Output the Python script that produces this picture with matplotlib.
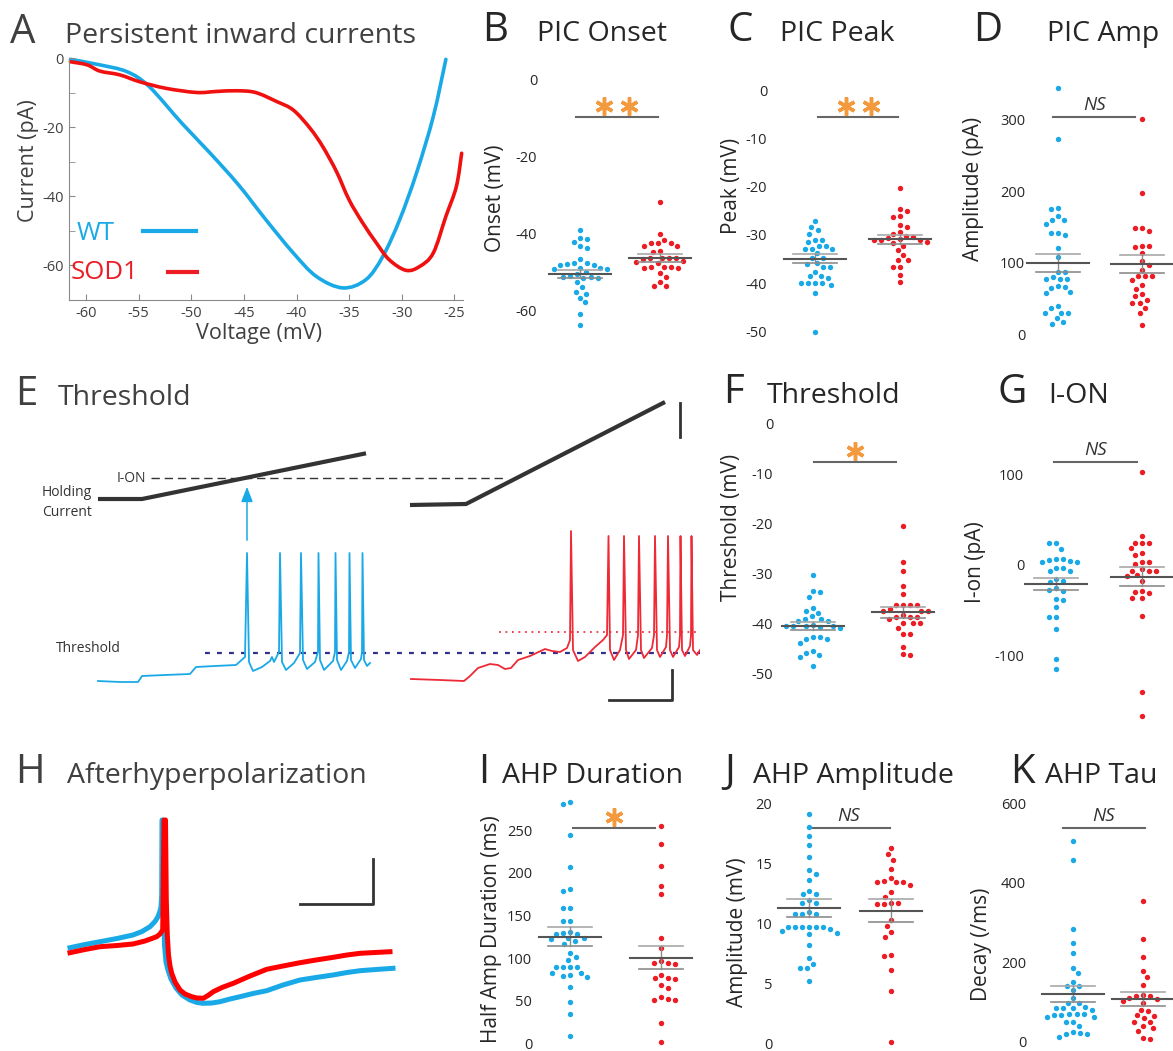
import numpy as np
import matplotlib
matplotlib.use('Agg')
import matplotlib.pyplot as plt
from matplotlib.lines import Line2D
from matplotlib.path import Path
from matplotlib.patches import PathPatch

plt.rcParams['font.family'] = ['Open Sans', 'DejaVu Sans']
plt.rcParams['axes.unicode_minus'] = False

W, H = 1173, 1051
BLUE = '#1aa9e7'
RED = '#ec1c24'
ORANGE = '#f49a3e'
DARK = '#262626'
GREY = '#404040'

# ---------------- A: PIC I-V curves ----------------
pic_wt_v = [-61.5, -58.7, -56.1, -54.0, -50.9, -48.2, -45.5, -42.9, -40.3, -38.1, -35.6,
            -33.4, -31.8, -30.2, -28.6, -27.0, -25.8]
pic_wt_i = [-0.3, -1.9, -3.9, -8.2, -18.8, -27.5, -36.7, -46.8, -56.4, -63.2, -66.5,
            -64.1, -57.4, -46.8, -33.3, -16.9, -0.3]
pic_sod_v = [-61.5, -59.9, -58.7, -56.8, -54.9, -52.4, -49.5, -47.6, -45.7, -43.9, -41.9,
             -40.3, -38.7, -37.5, -36.2, -35.0, -33.7, -32.4, -31.2, -29.6, -28.3, -27.0,
             -25.8, -24.8, -24.3]
pic_sod_i = [-1.0, -1.9, -3.7, -4.8, -6.8, -8.7, -9.9, -9.6, -9.4, -9.9, -12.5,
             -15.0, -20.3, -25.6, -32.8, -41.0, -47.7, -53.5, -58.3, -61.4, -60.3, -56.4,
             -45.8, -37.1, -27.5]

# ---------------- B: PIC onset (mV) ----------------
onset_wt = [-39.0, -41.3, -41.4, -42.3, -43.3, -43.9, -46.8, -47.7, -47.7, -48.0, -48.3, -48.3,
            -49.0, -49.2, -49.4, -50.0, -49.1, -50.6, -51.0, -51.7, -51.5, -51.3, -51.6, -52.8,
            -54.1, -55.2, -55.7, -56.8, -58.0, -61.0, -63.9]
onset_sod = [-31.9, -40.2, -42.4, -42.4, -42.4, -41.7, -43.3, -43.3, -44.5, -44.8, -46.3, -46.4,
             -46.5, -46.8, -46.5, -47.8, -47.4, -47.1, -48.7, -48.7, -48.7, -49.1, -49.1, -50.4,
             -51.5, -52.6, -53.7, -53.7]
onset_mean = [-50.6, -46.4]
onset_sem = [1.0, 1.1]

# ---------------- C: PIC peak (mV) ----------------
peak_wt = [-27.2, -28.4, -29.0, -29.8, -31.4, -31.0, -31.0, -32.3, -32.3, -32.8, -32.8, -33.0,
           -33.8, -34.8, -34.8, -35.9, -35.7, -36.6, -36.6, -37.6, -38.5, -38.5, -39.0, -40.0,
           -40.0, -40.0, -40.3, -39.9, -41.9, -50.0]
peak_sod = [-20.2, -24.6, -25.0, -26.2, -26.1, -28.3, -27.9, -29.4, -30.2, -29.7, -30.7, -30.5,
            -31.0, -31.0, -31.0, -30.9, -31.6, -32.2, -31.5, -33.2, -34.1, -35.2, -35.2, -36.6,
            -36.6, -38.3, -39.8]
peak_mean = [-34.9, -30.9]
peak_sem = [0.9, 1.0]

# ---------------- D: PIC amplitude (pA) ----------------
amp_wt = [344, 273, 177, 175, 165, 159, 159, 154, 141, 141, 139, 121, 108, 87, 87, 77, 77, 77,
          80, 67, 66, 65, 59, 58, 39, 36, 30, 30, 30, 22, 17, 14]
amp_sod = [301, 198, 149, 148, 144, 123, 123, 122, 113, 102, 97, 90, 81, 81, 81, 76, 69, 63,
           56, 53, 44, 44, 48, 37, 30, 13]
amp_mean = [99.9, 97.6]
amp_sem = [12.4, 12.5]

# ---------------- F: threshold (mV) ----------------
thr_wt = [-30.3, -33.5, -33.8, -34.7, -37.0, -37.5, -37.9, -38.5, -39.1, -39.5, -39.5, -39.2,
          -40.5, -40.5, -40.5, -40.5, -40.8, -40.3, -40.9, -43.2, -43.1, -42.7, -42.7, -43.9,
          -45.5, -45.9, -46.3, -46.8, -48.5]
thr_sod = [-20.5, -27.8, -29.5, -32.5, -34.2, -36.3, -36.3, -36.3, -36.3, -37.5, -37.5, -37.5,
           -37.2, -38.3, -39.2, -38.7, -38.7, -38.7, -40.0, -40.0, -40.0, -41.0, -42.1, -42.1,
           -44.8, -46.2, -46.3]
thr_mean = [-40.5, -37.8]
thr_sem = [0.75, 1.15]

# ---------------- G: I-ON (pA) ----------------
ion_wt = [23.9, 23.9, 17.6, 4.4, 3.7, 3.7, 6.6, 5.5, 6.2, -2.9, -3.7, -7.0, -6.6, -15.1, -17.3,
          -19.1, -25.7, -27.5, -28.3, -37.4, -38.5, -46.6, -56.9, -56.9, -70.5, -103.9, -114.5]
ion_sod = [102, 32.3, 23.9, 24.6, 24.6, 18.3, 13.6, 11.0, 3.7, 3.7, 0.7, -6.6, -6.2, -6.2, -4.8,
           -11.0, -12.1, -17.3, -30.5, -28.3, -29.4, -36.7, -36.7, -55.8, -139.5, -166.3]
ion_mean = [-20.9, -12.8]
ion_sem = [6.6, 10.3]

# ---------------- I: AHP half-amplitude duration (ms) ----------------
dur_wt = [280, 283, 244, 207, 181, 178, 159, 159, 143, 143, 128, 128, 129, 131, 124, 120, 116,
          123, 122, 106, 98, 101, 90, 90, 90, 90, 83, 80, 83, 79, 78, 66, 49, 34, 9]
dur_sod = [255, 234, 208, 184, 175, 124, 112, 97, 94, 93, 94, 76, 76, 80, 75, 68, 65, 54, 52,
           51, 51, 24, 1]
dur_mean = [125.0, 100.4]
dur_sem = [11.4, 13.2]

# ---------------- J: AHP amplitude (mV) ----------------
ahp_wt = [19.1, 18.05, 17.3, 16.5, 15.5, 14.4, 14.1, 13.6, 12.4, 12.4, 12.7, 11.9, 11.7, 11.7,
          10.8, 10.8, 10.8, 10.9, 9.7, 9.7, 9.7, 9.7, 9.7, 9.7, 9.5, 9.2, 9.4, 9.1, 8.2, 7.1,
          6.3, 6.3, 6.6, 5.2]
ahp_sod = [16.3, 15.75, 15.3, 14.5, 13.8, 13.4, 13.4, 13.2, 13.5, 13.4, 12.6, 12.2, 11.7, 11.6,
           11.6, 11.7, 10.3, 9.8, 9.3, 8.9, 7.4, 7.3, 6.1, 4.4, 0.1]
ahp_mean = [11.25, 11.05]
ahp_sem = [0.75, 0.95]

# ---------------- K: AHP decay tau ----------------
tau_wt = [506, 457, 285, 248, 223, 185, 172, 141, 130, 151, 141, 97, 97, 109, 88, 84, 80, 84,
          84, 63, 69, 69, 69, 67, 61, 67, 50, 50, 40, 19, 19, 25, 21, 13]
tau_sod = [354, 258, 212, 179, 164, 144, 115, 107, 97, 109, 115, 118, 102, 65, 66, 80, 77, 60,
           50, 50, 40, 34, 27, 6, 9]
tau_mean = [120.0, 107.5]
tau_sem = [20.5, 16.5]

# ---------------- E: schematic traces (panel units) ----------------
wt_hold_x = [98, 142, 366]
wt_hold_y = [499, 499, 453.3]
sod_hold_x = [410, 466, 665]
sod_hold_y = [505, 504, 402]
wt_vm_x = [98, 120, 138, 142, 165, 190, 196, 215, 236, 245, 247, 249, 253, 262, 270, 272, 274,
           279, 280, 282, 286, 294, 300, 301, 303, 307, 315, 318, 318.5, 320, 324, 333, 335,
           335.5, 337, 341, 347, 349, 349.5, 351, 355, 361, 362, 362.5, 364, 367, 370]
wt_vm_y = [681, 682, 682, 676, 675, 674, 667, 666, 665, 657, 553, 662, 671, 667, 661, 657, 662,
           652, 553, 662, 670, 663, 653, 553, 660, 669, 662, 652, 553, 660, 670, 661, 652,
           553, 660, 670, 661, 652, 553, 660, 668, 659, 652, 553, 660, 666, 663]
sod_vm_x = [411, 440, 464, 470, 478, 490, 498, 505, 511, 518, 530, 545, 552, 560, 567, 570, 571,
            573, 578, 585, 595, 603, 607, 608.5, 610, 614, 620, 623, 624, 626, 629, 636, 638,
            639, 641, 644, 652, 654, 655, 657, 660, 666, 667, 668, 670, 673, 679, 680, 680.5,
            682, 685, 690, 691, 691.5, 693, 697, 700]
sod_vm_y = [679, 680, 681, 676, 668, 664, 665, 669, 668, 660, 656, 649, 651, 652, 648, 640, 531,
            650, 661, 657, 647, 640, 635, 536, 650, 660, 650, 635, 536, 650, 659, 650, 635,
            536, 650, 658, 648, 635, 536, 650, 657, 647, 635, 536, 650, 657, 647, 635, 536,
            650, 656, 646, 635, 536, 650, 655, 650]

# ---------------- H: AHP traces (panel units) ----------------
ahp_tr_wt_x = [70, 85, 100, 117, 133, 142, 150, 155, 158, 160, 161, 161.7, 162, 163, 163.6,
               164.5, 166, 168, 171, 176, 182, 190, 197, 203, 212, 220, 230, 240, 253, 266.7,
               283, 300, 316, 333, 347, 360, 376, 393]
ahp_tr_wt_y = [947.7, 944.5, 941.7, 938.5, 935, 931.5, 926.7, 921.5, 916.7, 911, 906.7, 895,
               820, 820, 900, 945, 962, 970, 979, 988, 995, 1000, 1002.5, 1003.3, 1003, 1001.7,
               999, 996.7, 993.5, 990.7, 985, 980, 977.5, 975, 972.5, 970.7, 969.5, 968.3]
ahp_tr_sod_x = [70, 85, 100, 117, 133, 145, 156.7, 160, 162.7, 164, 165.5, 166.3, 167.3, 168.5,
                170, 171.7, 175, 180, 185, 191.7, 197, 203.3, 208, 213.3, 222, 233.3, 250,
                266.7, 283, 300, 316, 333.3, 347, 360, 375, 390]
ahp_tr_sod_y = [952.7, 949.5, 946.7, 945.5, 944, 941, 936.7, 934, 930, 820, 820, 900, 935,
                955, 966, 973.3, 982, 990, 994, 996.7, 998, 998.3, 995.5, 991.7, 987.5, 983.3,
                976, 969.3, 966, 962.7, 960, 957.3, 955, 953.3, 952.5, 951.7]

# =====================================================================
fig = plt.figure(figsize=(W / 100, H / 100), dpi=100)

TITLE_FS = 20.5
LETTER_FS = 29


def add_ax(l, t, r, b):
    return fig.add_axes([l / W, 1 - b / H, (r - l) / W, (b - t) / H])


def ftext(x, y, s, **kw):
    return fig.text(x / W, 1 - y / H, s, **kw)


def fline(xs, ys, **kw):
    fig.add_artist(Line2D([x / W for x in xs], [1 - y / H for y in ys],
                          transform=fig.transFigure, **kw))


def title(xl, xt, y, letter, text, color=DARK):
    ftext(xl, y, letter, fontsize=LETTER_FS, color=color, va='baseline', ha='left')
    ftext(xt, y, text, fontsize=TITLE_FS, color=color, va='baseline', ha='left')


def smooth_curve(ax, xs, ys, **kw):
    """Draw a smooth (Catmull-Rom style Bezier) curve through the given points."""
    P = np.column_stack([xs, ys]).astype(float)
    n = len(P)
    verts = [P[0]]
    codes = [Path.MOVETO]
    for i in range(n - 1):
        p0 = P[i - 1] if i > 0 else P[i]
        p1 = P[i]
        p2 = P[i + 1]
        p3 = P[i + 2] if i + 2 < n else P[i + 1]
        c1 = p1 + (p2 - p0) / 6.0
        c2 = p2 - (p3 - p1) / 6.0
        verts += [c1, c2, p2]
        codes += [Path.CURVE4] * 3
    patch = PathPatch(Path(verts, codes), fill=False, **kw)
    ax.add_patch(patch)
    return patch


def swarm(vals, ppy, d=7.0):
    vals = np.asarray(vals, float)
    ys = vals * ppy
    order = np.argsort(-vals)
    xs = np.zeros(len(vals))
    placed = []
    for n, i in enumerate(order):
        chosen = 0.0
        for k in range(0, 400):
            if k == 0:
                cands = [0.0]
            else:
                cands = [k * 0.5, -k * 0.5] if n % 2 == 0 else [-k * 0.5, k * 0.5]
            found = None
            for c in cands:
                if all((c - px) ** 2 + (ys[i] - py) ** 2 >= d * d for px, py in placed):
                    found = c
                    break
            if found is not None:
                chosen = found
                break
        xs[i] = chosen
        placed.append((chosen, ys[i]))
    return xs


def dot_panel(box, ylim, yticks, centers, wt, sod, means, sems, sig_y, sig_x, sig,
              ylabel, ylab_xy):
    l, t, r, b = box
    ax = add_ax(l, t, r, b)
    c1, c2 = centers
    ppx = c2 - c1
    ax.set_xlim(1 - (c1 - l) / ppx, 2 + (r - c2) / ppx)
    ax.set_ylim(*ylim)
    ppy = (b - t) / (ylim[1] - ylim[0])
    for k, (vals, col) in enumerate([(wt, BLUE), (sod, RED)]):
        offs = swarm(vals, ppy) / ppx
        ax.scatter(k + 1 + offs, vals, s=15, color=col, linewidths=0, zorder=3, clip_on=False)
        hw = 31 / ppx
        sw = 22 / ppx
        m, s = means[k], sems[k]
        ax.plot([k + 1 - hw, k + 1 + hw], [m, m], color='#555555', lw=1.5, zorder=5,
                clip_on=False)
        ax.plot([k + 1 - sw, k + 1 + sw], [m + s, m + s], color='#a8a8a8', lw=1.2, zorder=4,
                clip_on=False)
        ax.plot([k + 1 - sw, k + 1 + sw], [m - s, m - s], color='#8c8c8c', lw=1.2, zorder=4,
                clip_on=False)
        ax.plot([k + 1, k + 1], [m - s, m + s], color='#8c8c8c', lw=1.0, zorder=4,
                clip_on=False)
    ax.plot(sig_x, [sig_y, sig_y], color='#666666', lw=1.5, clip_on=False)
    mid = (sig_x[0] + sig_x[1]) / 2
    if sig == 'NS':
        ax.text(mid, sig_y + 3 / ppy, 'NS', style='italic', ha='center', va='bottom',
                fontsize=13.5, color='#333333')
    else:
        n = len(sig)
        xs = [mid + (j - (n - 1) / 2) * 25 / ppx for j in range(n)]
        ax.plot(xs, [sig_y + 11 / ppy] * n, linestyle='none', marker=(6, 2, 0), ms=13,
                mew=2.5, color=ORANGE, clip_on=False)
    ax.set_yticks(yticks)
    ax.set_xticks([])
    ax.tick_params(axis='y', length=0, pad=2, labelsize=10.5, labelcolor=DARK)
    for sp in ax.spines.values():
        sp.set_visible(False)
    ax.patch.set_alpha(0)
    ftext(ylab_xy[0], ylab_xy[1], ylabel, rotation=90, ha='center', va='center',
          fontsize=15, color=DARK)
    return ax


# ---------------- Panel A ----------------
axA = add_ax(69.3, 58.3, 462.7, 300)
smooth_curve(axA, pic_wt_v, pic_wt_i, edgecolor=BLUE, lw=2.6, clip_on=False,
             capstyle='round', joinstyle='round')
smooth_curve(axA, pic_sod_v, pic_sod_i, edgecolor='#f01010', lw=2.6, clip_on=False,
             capstyle='round', joinstyle='round')
axA.set_xlim(-61.6, -24.2)
axA.set_ylim(-70, 0)
axA.set_xticks(list(range(-60, -24, 5)))
axA.set_yticks([0, -20, -40, -60])
axA.set_yticks([-10, -30, -50, -70], minor=True)
for side in ['top', 'right']:
    axA.spines[side].set_visible(False)
for side in ['left', 'bottom']:
    axA.spines[side].set_color('#8a8a8a')
axA.tick_params(which='both', direction='in', length=4, color='#8a8a8a', labelsize=10.5,
                labelcolor=GREY, pad=4)
axA.patch.set_alpha(0)
title(10, 65, 43, 'A', 'Persistent inward currents', color=GREY)
ftext(259, 333, 'Voltage (mV)', fontsize=15.5, color=GREY, ha='center', va='center')
ftext(28.3, 161, 'Current (pA)', fontsize=15.5, color=GREY, ha='center', va='center',
      rotation=90)
ftext(77, 234, 'WT', fontsize=18.5, color=BLUE, ha='left', va='center')
ftext(70.5, 272.5, 'SOD1', fontsize=18.5, color=RED, ha='left', va='center')
fline([142.7, 196], [230.7, 230.7], color=BLUE, lw=3)
fline([167.7, 196.7], [271.7, 271.7], color=RED, lw=3)

# ---------------- Panels B, C, D ----------------
title(482, 537, 41, 'B', 'PIC Onset')
dot_panel((540, 70, 705, 340), (-67.8, 2.6), [0, -20, -40, -60], (580, 660),
          onset_wt, onset_sod, onset_mean, onset_sem, -9.7, (0.95, 1.97), '**',
          'Onset (mV)', (495, 198))
title(727, 780, 41, 'C', 'PIC Peak')
dot_panel((770, 70, 935, 345), (-52.76, 4.14), [0, -10, -20, -30, -40, -50], (815, 900),
          peak_wt, peak_sod, peak_mean, peak_sem, -5.6, (1.035, 1.98), '**',
          'Peak (mV)', (732, 186))
title(973, 1047, 41, 'D', 'PIC Amp')
dot_panel((1028, 70, 1173, 345), (-15.4, 369.7), [0, 100, 200, 300], (1058, 1142),
          amp_wt, amp_sod, amp_mean, amp_sem, 303.5, (0.94, 1.92), 'NS',
          'Amplitude (pA)', (974, 189))

# ---------------- Panel E ----------------
title(15, 58, 405, 'E', 'Threshold', color=GREY)
axE = add_ax(0, 370, 700, 720)
axE.set_xlim(0, 700)
axE.set_ylim(720, 370)
axE.axis('off')
axE.plot([151, 504], [478, 478], color='#333333', lw=1, dashes=(6, 3.5))
axE.plot([205, 700], [652.7, 652.7], color='#303090', lw=1.6, dashes=(2.2, 3.2))
axE.plot([499, 700], [632.3, 632.3], color='#ee3344', lw=1.3, dashes=(1, 2.6))
axE.plot(wt_hold_x, wt_hold_y, color='#333333', lw=3, solid_capstyle='butt')
axE.plot(sod_hold_x, sod_hold_y, color='#333333', lw=3, solid_capstyle='butt')
axE.plot(wt_vm_x, wt_vm_y, color=BLUE, lw=1.3)
axE.plot(sod_vm_x, sod_vm_y, color='#ee2a36', lw=1.3)
axE.annotate('', xy=(247, 484), xytext=(247, 543),
             arrowprops=dict(arrowstyle='-|>,head_length=0.9,head_width=0.35', color=BLUE,
                             lw=1.1))
axE.plot([679.5, 679.5], [403, 437], color='#333333', lw=2)
axE.plot([609, 672, 672], [700, 700, 670], color='#333333', lw=2)
axE.text(146, 478, 'I-ON', ha='right', va='center', fontsize=10, color='#333333')
axE.text(42, 492, 'Holding', ha='left', va='center', fontsize=10, color='#333333')
axE.text(42, 512, 'Current', ha='left', va='center', fontsize=10, color='#333333')
axE.text(56, 648, 'Threshold', ha='left', va='center', fontsize=10, color='#333333')

# ---------------- Panels F, G ----------------
title(723, 767, 403, 'F', 'Threshold')
dot_panel((776, 410, 940, 700), (-55.34, 2.66), [0, -10, -20, -30, -40, -50], (812.7, 902.7),
          thr_wt, thr_sod, thr_mean, thr_sem, -7.7, (1.015, 1.925), '*',
          'Threshold (mV)', (731, 527))
title(997, 1048, 403, 'G', 'I-ON')
dot_panel((1027, 410, 1173, 720), (-170.7, 170.7), [100, 0, -100], (1056, 1141.7),
          ion_wt, ion_sod, ion_mean, ion_sem, 113.8, (0.98, 1.95), 'NS',
          'I-on (pA)', (976, 562))

# ---------------- Panel H ----------------
title(15, 67, 783, 'H', 'Afterhyperpolarization', color=GREY)
axH = add_ax(0, 790, 470, 1051)
axH.set_xlim(0, 470)
axH.set_ylim(1051, 790)
axH.axis('off')
axH.plot(ahp_tr_wt_x, ahp_tr_wt_y, color=BLUE, lw=3.6, solid_joinstyle='round')
axH.plot(ahp_tr_sod_x, ahp_tr_sod_y, color='#ff0000', lw=3.6, solid_joinstyle='round')
axH.plot([300, 372.7, 372.7], [904, 904, 859], color='#333333', lw=2)

# ---------------- Panels I, J, K ----------------
title(478, 502, 783, 'I', 'AHP Duration')
dot_panel((535, 795, 700, 1048), (-5.5, 291.1), [0, 50, 100, 150, 200, 250], (570, 661),
          dur_wt, dur_sod, dur_mean, dur_sem, 252, (1.03, 1.93), '*',
          'Half Amp Duration (ms)', (491, 929))
title(724, 753, 783, 'J', 'AHP Amplitude')
dot_panel((775, 795, 935, 1048), (-0.39, 20.69), [0, 5, 10, 15, 20], (809.3, 890.7),
          ahp_wt, ahp_sod, ahp_mean, ahp_sem, 17.9, (0.98, 1.99), 'NS',
          'Amplitude (mV)', (737, 932))
title(1010, 1045, 783, 'K', 'AHP Tau')
dot_panel((1029, 795, 1173, 1048), (-15.9, 621.2), [0, 200, 400, 600], (1073.3, 1143.3),
          tau_wt, tau_sod, tau_mean, tau_sem, 537, (0.85, 2.03), 'NS',
          'Decay (/ms)', (981, 944))

fig.savefig('out.png', dpi=100)
